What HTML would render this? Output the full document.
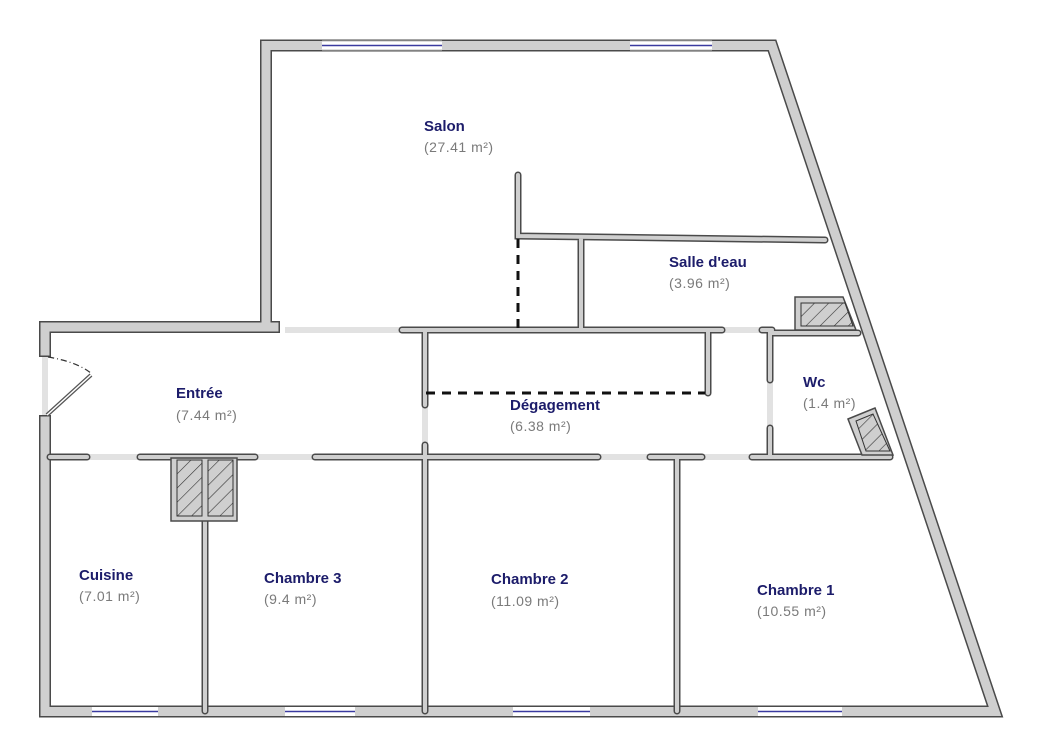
<!DOCTYPE html>
<html><head><meta charset="utf-8"><style>
body{margin:0;background:#fff;width:1060px;height:746px;overflow:hidden}
svg{position:absolute;left:0;top:0}
.n{font:bold 15px "Liberation Sans",sans-serif;fill:#1c1c6a}
.a{font:14px "Liberation Sans",sans-serif;fill:#7a7a7a;letter-spacing:0.5px}
</style></head><body>
<svg width="1060" height="746" viewBox="0 0 1060 746">
<defs>
<pattern id="h" width="10" height="10" patternUnits="userSpaceOnUse" patternTransform="rotate(45)">
<line x1="0" y1="0" x2="0" y2="10" stroke="#333" stroke-width="1.2"/></pattern>
</defs>
<!-- openings (light) -->
<g stroke="#e2e2e2" stroke-width="6" fill="none">
<line x1="285" y1="330" x2="402" y2="330"/>
<line x1="722" y1="330" x2="762" y2="330"/>
<line x1="87" y1="457" x2="140" y2="457"/>
<line x1="255" y1="457" x2="315" y2="457"/>
<line x1="598" y1="457" x2="650" y2="457"/>
<line x1="702" y1="457" x2="752" y2="457"/>
<line x1="425" y1="405" x2="425" y2="445"/>
<line x1="770" y1="380" x2="770" y2="428"/>
<line x1="45" y1="357" x2="45" y2="415"/>
</g>
<!-- outer walls dark -->
<g fill="none" stroke="#4a4a4a" stroke-linejoin="miter" stroke-linecap="butt">
<polyline stroke-width="12" points="266,333 266,45.5 772,45.5 995,711.5 45,711.5 45,415"/>
<polyline stroke-width="12" points="45,357 45,327 280,327"/>
</g>
<g fill="none" stroke="#cfcfcf" stroke-linejoin="miter">
<polyline stroke-width="9" points="266,331 266,45.5 772,45.5 995,711.5 45,711.5 45,416.5"/>
<polyline stroke-width="9" points="45,355.5 45,327 278.5,327"/>
</g>
<!-- windows -->
<g stroke="#fff" stroke-width="9">
<line x1="322" y1="45.5" x2="442" y2="45.5"/><line x1="630" y1="45.5" x2="712" y2="45.5"/>
<line x1="92" y1="711.5" x2="158" y2="711.5"/><line x1="285" y1="711.5" x2="355" y2="711.5"/>
<line x1="513" y1="711.5" x2="590" y2="711.5"/><line x1="758" y1="711.5" x2="842" y2="711.5"/>
</g>
<g stroke="#3a3aa0" stroke-width="1.5">
<line x1="322" y1="45.5" x2="442" y2="45.5"/><line x1="630" y1="45.5" x2="712" y2="45.5"/>
<line x1="92" y1="711.5" x2="158" y2="711.5"/><line x1="285" y1="711.5" x2="355" y2="711.5"/>
<line x1="513" y1="711.5" x2="590" y2="711.5"/><line x1="758" y1="711.5" x2="842" y2="711.5"/>
</g>
<g stroke="#bbb" stroke-width="1">
<line x1="322" y1="41" x2="442" y2="41"/><line x1="630" y1="41" x2="712" y2="41"/>
<line x1="322" y1="50" x2="442" y2="50"/><line x1="630" y1="50" x2="712" y2="50"/>
</g>
<!-- interior walls -->
<g id="iw" fill="none" stroke-linecap="round">
<path d="M518,175 V236 L825,240 M581,237 V330 M402,330 H722 M425,330 V405 M708,330 V393 M762,330 H772 M770,330 V380 M770,428 V457 M770,333 H858 M50,457 H87 M140,457 H255 M315,457 H598 M650,457 H702 M752,457 H890 M425,445 V711 M677,457 V711 M205,520 V711"/>
</g>
<use href="#iw" stroke="#4a4a4a" stroke-width="7"/>
<g fill="none" stroke="#cfcfcf" stroke-width="4" stroke-linecap="round">
<path d="M518,175 V236 L825,240 M581,237 V330 M402,330 H722 M425,330 V405 M708,330 V393 M762,330 H772 M770,330 V380 M770,428 V457 M770,333 H858 M50,457 H87 M140,457 H255 M315,457 H598 M650,457 H702 M752,457 H890 M425,445 V711 M677,457 V711 M205,520 V711"/>
</g>
<!-- hatched boxes -->
<rect x="171" y="458" width="66" height="63" fill="#cfcfcf" stroke="#4a4a4a" stroke-width="1.5"/>
<rect x="177" y="460" width="25" height="56" fill="url(#h)" stroke="#333"/>
<rect x="208" y="460" width="25" height="56" fill="url(#h)" stroke="#333"/>
<polygon points="795,330 795,297 843,297 856,330" fill="#cfcfcf" stroke="#4a4a4a" stroke-width="1.5"/>
<polygon points="801,326 801,303 845,303 853,326" fill="url(#h)" stroke="#333"/>
<polygon points="848,419 875,408 893,455 862,455" fill="#cfcfcf" stroke="#4a4a4a" stroke-width="1.5"/>
<polygon points="856,421 873,414 890,451 866,451" fill="url(#h)" stroke="#333"/>
<!-- dashed -->
<g stroke="#111" stroke-width="3" stroke-dasharray="9,7">
<line x1="518" y1="239" x2="518" y2="330"/>
<line x1="426" y1="393" x2="705" y2="393"/>
</g>
<!-- door -->
<line x1="47" y1="415" x2="91" y2="375" stroke="#555" stroke-width="4"/>
<line x1="47" y1="415" x2="91" y2="375" stroke="#fff" stroke-width="1.5"/>
<path d="M48,357 Q78,362 92,374" fill="none" stroke="#333" stroke-width="1.2" stroke-dasharray="6,3,1,3"/>
<!-- labels -->
<text class="n" x="424" y="131">Salon</text><text class="a" x="424" y="152">(27.41 m²)</text>
<text class="n" x="669" y="267">Salle d'eau</text><text class="a" x="669" y="288">(3.96 m²)</text>
<text class="n" x="176" y="398">Entrée</text><text class="a" x="176" y="420">(7.44 m²)</text>
<text class="n" x="510" y="410">Dégagement</text><text class="a" x="510" y="431">(6.38 m²)</text>
<text class="n" x="803" y="387">Wc</text><text class="a" x="803" y="408">(1.4 m²)</text>
<text class="n" x="79" y="580">Cuisine</text><text class="a" x="79" y="601">(7.01 m²)</text>
<text class="n" x="264" y="583">Chambre 3</text><text class="a" x="264" y="604">(9.4 m²)</text>
<text class="n" x="491" y="584">Chambre 2</text><text class="a" x="491" y="606">(11.09 m²)</text>
<text class="n" x="757" y="595">Chambre 1</text><text class="a" x="757" y="616">(10.55 m²)</text>
</svg>
</body></html>
